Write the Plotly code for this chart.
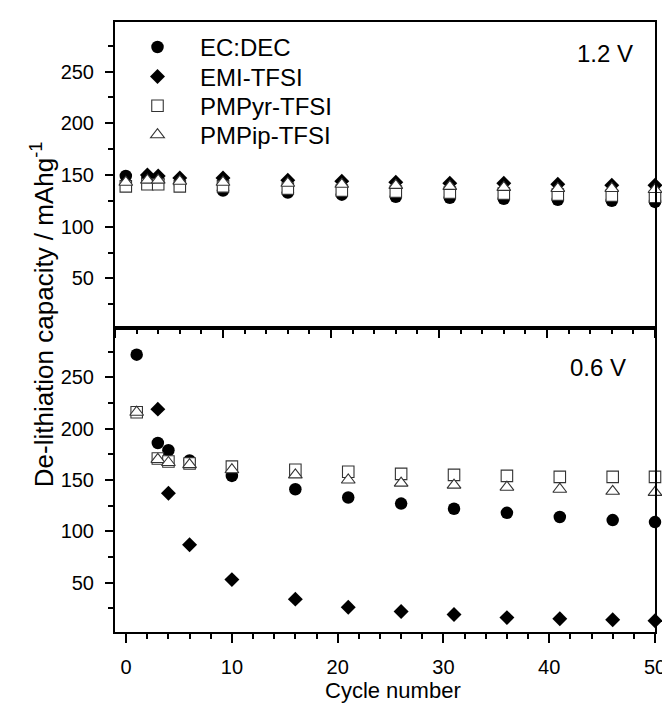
import plotly.graph_objects as go

# ---------------- data ----------------
cycles = [1, 3, 4, 6, 10, 16, 21, 26, 31, 36, 41, 46, 50]
cycles_emi = [3, 4, 6, 10, 16, 21, 26, 31, 36, 41, 46, 50]

# 1.2 V (top panel)
ec_12 = [149, 147, 146, 141, 135, 133, 131, 129, 128, 127, 126, 125, 124]
emi_12 = [150, 149, 147, 147, 145, 144, 143, 142, 142, 141, 140, 140]
pyr_12 = [139, 141, 141, 139, 139, 137, 135, 134, 133, 132, 131, 130, 129]
pip_12 = [143, 145, 145, 144, 143, 142, 141, 140, 139, 138, 137, 137, 136]

# 0.6 V (bottom panel)
ec_06 = [272, 186, 179, 169, 154, 141, 133, 127, 122, 118, 114, 111, 109]
emi_06 = [219, 137, 87, 53, 34, 26, 22, 19, 16, 15, 14, 13]
pyr_06 = [216, 171, 168, 166, 163, 160, 158, 156, 155, 154, 153, 153, 153]
pip_06 = [216, 170, 167, 165, 160, 155, 150, 147, 145, 143, 141, 139, 138]

names = ["EC:DEC", "EMI-TFSI", "PMPyr-TFSI", "PMPip-TFSI"]
y_ticks = [50, 100, 150, 200, 250]
x_ticks = [0, 10, 20, 30, 40, 50]

FONT = "Arial, Liberation Sans, sans-serif"

styles = [
    dict(symbol="circle", size=12.5, color="black", line=dict(width=0)),
    dict(symbol="diamond", size=11.5, color="black", line=dict(width=0)),
    dict(symbol="square", size=11.5, color="white", line=dict(width=1.1, color="#333")),
    dict(symbol="triangle-up", size=12, color="white", line=dict(width=1.1, color="#333")),
]
legend_ids = ["legend", "legend2", "legend3", "legend4"]

fig = go.Figure()
top_sets = [(cycles, ec_12), (cycles_emi, emi_12), (cycles, pyr_12), (cycles, pip_12)]
bot_sets = [(cycles, ec_06), (cycles_emi, emi_06), (cycles, pyr_06), (cycles, pip_06)]

for i, (xs, ys) in enumerate(top_sets):
    fig.add_trace(go.Scatter(x=xs, y=ys, mode="markers", name=names[i],
                             marker=styles[i], xaxis="x2", yaxis="y2",
                             legend=legend_ids[i], showlegend=True, cliponaxis=False))
for i, (xs, ys) in enumerate(bot_sets):
    fig.add_trace(go.Scatter(x=xs, y=ys, mode="markers", name=names[i],
                             marker=styles[i], xaxis="x", yaxis="y",
                             showlegend=False, cliponaxis=False))

axis_common = dict(showline=True, linecolor="black", linewidth=2, mirror=True,
                   ticks="outside", tickcolor="black", tickwidth=1.5,
                   showgrid=False, zeroline=False,
                   tickfont=dict(family=FONT, size=20, color="black"))

# plot area: x 107..656, y 12..624
T, B = 12, 79
H = 703 - T - B
split = (624 - 319) / H

def py(pix):
    return 1 - (pix - T) / H

legend_rows = [37.5, 67, 96.5, 125.5]
legends = {}
for i, lid in enumerate(legend_ids):
    legends[lid] = dict(x=0.0, y=py(legend_rows[i]), xanchor="left", yanchor="middle",
                        bgcolor="rgba(0,0,0,0)", borderwidth=0, itemwidth=75,
                        font=dict(family=FONT, size=24, color="black"))

fig.update_layout(
    width=670, height=703,
    margin=dict(l=107, r=14, t=T, b=B),
    paper_bgcolor="white", plot_bgcolor="white",
    font=dict(family=FONT, color="black"),
    xaxis=dict(**axis_common, range=[-1.05, 50], tickvals=x_ticks, ticklen=9,
               minor=dict(dtick=2, ticklen=5, ticks="outside", tickcolor="black", tickwidth=1.5),
               anchor="y", domain=[0, 1], ticklabelstandoff=7),
    xaxis2=dict(**axis_common, range=[0, 50], tickvals=x_ticks, ticklen=8,
                showticklabels=False,
                minor=dict(dtick=2, ticklen=4, ticks="outside", tickcolor="black", tickwidth=1.5),
                anchor="y2", domain=[0, 1]),
    yaxis=dict(**axis_common, range=[2, 298], tickvals=y_ticks, ticklen=8,
               minor=dict(dtick=25, ticklen=5, ticks="outside", tickcolor="black", tickwidth=1.5),
               domain=[0, split], anchor="x", ticklabelstandoff=7),
    yaxis2=dict(**axis_common, range=[2, 298], tickvals=y_ticks, ticklen=8,
                minor=dict(dtick=25, ticklen=5, ticks="outside", tickcolor="black", tickwidth=1.5),
                domain=[split, 1], anchor="x2", ticklabelstandoff=7),
    annotations=[
        dict(text="1.2 V", xref="paper", yref="paper", x=(636 - 107) / 549, y=py(44),
             xanchor="right", yanchor="middle", showarrow=False,
             font=dict(family=FONT, size=24, color="black")),
        dict(text="0.6 V", xref="paper", yref="paper", x=(629 - 107) / 549, y=py(359),
             xanchor="right", yanchor="middle", showarrow=False,
             font=dict(family=FONT, size=24, color="black")),
        dict(text="Cycle number", xref="paper", yref="paper", x=0.515, y=py(683),
             xanchor="center", yanchor="middle", showarrow=False,
             font=dict(family=FONT, size=22, color="black")),
        dict(text="De-lithiation capacity / mAhg<sup>-1</sup>", xref="paper", yref="paper",
             x=(33 - 107) / 549, y=py(305), xanchor="center", yanchor="middle", textangle=-90,
             showarrow=False, font=dict(family=FONT, size=26, color="black")),
    ],
    **legends,
)

fig.write_html("out.html")
